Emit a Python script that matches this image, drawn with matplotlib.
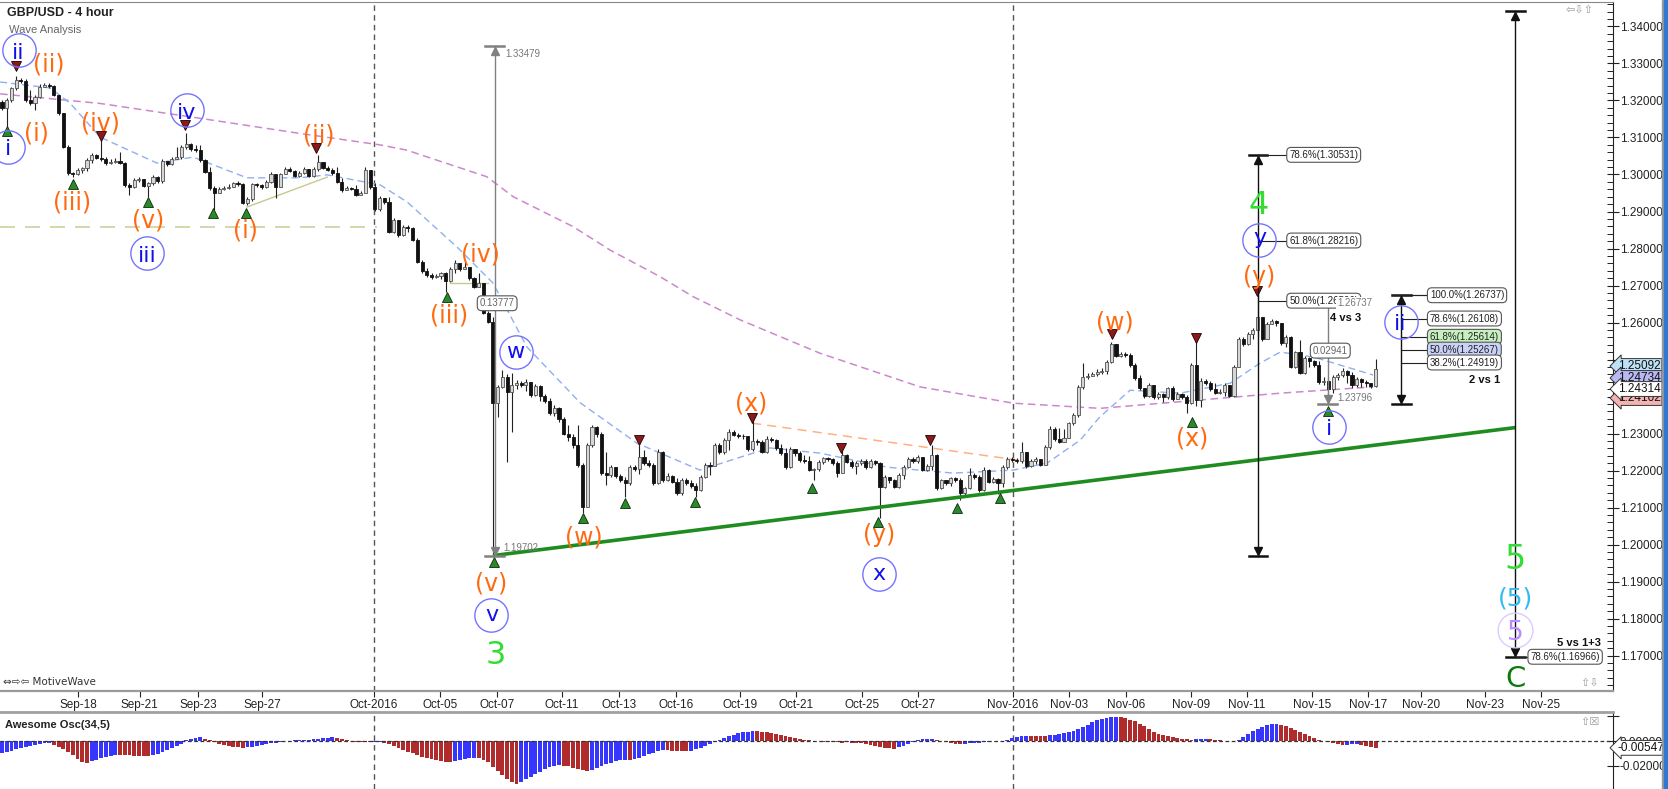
import matplotlib
matplotlib.use("Agg")
import matplotlib.pyplot as plt
from matplotlib.patches import Rectangle
import numpy as np

plt.rcParams['font.family'] = ['DejaVu Sans']
SMALL = ['Liberation Sans', 'DejaVu Sans']

W, H = 1668, 789

# ---- 4 hour candles (bar index 0 = first bar on the left) ----
first_open = 1.3197
closes = [
    1.3179, 1.3201, 1.3233, 1.3255, 1.3253, 1.3201, 1.3192, 1.3210, 1.3237, 1.3242,
    1.3239, 1.3215, 1.3165, 1.3075, 1.3003, 1.3001, 1.3012, 1.3017, 1.3039, 1.3053,
    1.3044, 1.3041, 1.3030, 1.3035, 1.3037, 1.3032, 1.2972, 1.2966, 1.2985, 1.2989,
    1.2969, 1.2976, 1.2992, 1.2983, 1.3037, 1.3028, 1.3043, 1.3046, 1.3073, 1.3082,
    1.3068, 1.3066, 1.3039, 1.3008, 1.2963, 1.2951, 1.2960, 1.2964, 1.2967, 1.2976,
    1.2974, 1.2924, 1.2933, 1.2974, 1.2971, 1.2967, 1.2981, 1.3001, 1.2966, 1.3001,
    1.3016, 1.3010, 1.2996, 1.3003, 1.3016, 1.2996, 1.3016, 1.3034, 1.3018, 1.3012,
    1.3003, 1.2981, 1.2958, 1.2964, 1.2960, 1.2945, 1.2951, 1.3012, 1.2966, 1.2906,
    1.2937, 1.2927, 1.2845, 1.2877, 1.2836, 1.2859, 1.2855, 1.2823, 1.2764, 1.2740,
    1.2728, 1.2724, 1.2726, 1.2733, 1.2713, 1.2745, 1.2762, 1.2744, 1.2749, 1.2719,
    1.2697, 1.2706, 1.2627, 1.2602, 1.2382, 1.2425, 1.2452, 1.2413, 1.2431, 1.2436,
    1.2431, 1.2440, 1.2404, 1.2428, 1.2401, 1.2389, 1.2356, 1.2368, 1.2338, 1.2300,
    1.2291, 1.2269, 1.2215, 1.2102, 1.2269, 1.2317, 1.2299, 1.2194, 1.2188, 1.2209,
    1.2186, 1.2174, 1.2165, 1.2209, 1.2203, 1.2236, 1.2219, 1.2214, 1.2165, 1.2251,
    1.2174, 1.2185, 1.2170, 1.2138, 1.2174, 1.2165, 1.2158, 1.2147, 1.2183, 1.2215,
    1.2211, 1.2269, 1.2251, 1.2283, 1.2305, 1.2296, 1.2293, 1.2292, 1.2257, 1.2281,
    1.2277, 1.2251, 1.2286, 1.2283, 1.2260, 1.2246, 1.2210, 1.2257, 1.2246, 1.2228,
    1.2227, 1.2201, 1.2203, 1.2224, 1.2233, 1.2230, 1.2219, 1.2194, 1.2242, 1.2224,
    1.2212, 1.2219, 1.2227, 1.2210, 1.2225, 1.2221, 1.2156, 1.2182, 1.2173, 1.2156,
    1.2187, 1.2210, 1.2232, 1.2227, 1.2237, 1.2201, 1.2212, 1.2242, 1.2152, 1.2173,
    1.2167, 1.2179, 1.2174, 1.2140, 1.2152, 1.2188, 1.2183, 1.2147, 1.2201, 1.2170,
    1.2176, 1.2165, 1.2209, 1.2232, 1.2228, 1.2225, 1.2250, 1.2212, 1.2227, 1.2230,
    1.2216, 1.2263, 1.2313, 1.2284, 1.2278, 1.2288, 1.2328, 1.2350, 1.2425, 1.2454,
    1.2455, 1.2461, 1.2467, 1.2470, 1.2494, 1.2542, 1.2510, 1.2515, 1.2512, 1.2485,
    1.2449, 1.2422, 1.2401, 1.2431, 1.2400, 1.2407, 1.2400, 1.2422, 1.2392, 1.2407,
    1.2398, 1.2382, 1.2485, 1.2391, 1.2443, 1.2437, 1.2419, 1.2410, 1.2413, 1.2431,
    1.2401, 1.2481, 1.2555, 1.2542, 1.2569, 1.2580, 1.2616, 1.2555, 1.2596, 1.2605,
    1.2598, 1.2544, 1.2560, 1.2481, 1.2519, 1.2464, 1.2503, 1.2497, 1.2485, 1.2438,
    1.2443, 1.2419, 1.2454, 1.2458, 1.2470, 1.2458, 1.2431, 1.2446, 1.2440, 1.2436,
    1.2428, 1.2473,
]
highs = [
    1.3201, 1.3206, 1.3237, 1.3266, 1.3260, 1.3257, 1.3228, 1.3215, 1.3245, 1.3246,
    1.3246, 1.3242, 1.3215, 1.3167, 1.3080, 1.3008, 1.3017, 1.3021, 1.3044, 1.3059,
    1.3055, 1.3098, 1.3046, 1.3041, 1.3044, 1.3062, 1.3034, 1.2976, 1.2990, 1.2994,
    1.2985, 1.2980, 1.2998, 1.2996, 1.3043, 1.3037, 1.3048, 1.3075, 1.3079, 1.3113,
    1.3086, 1.3081, 1.3079, 1.3041, 1.3019, 1.2969, 1.2965, 1.2969, 1.2973, 1.2980,
    1.2982, 1.2978, 1.2940, 1.2978, 1.2976, 1.2973, 1.2985, 1.3007, 1.2996, 1.3005,
    1.3021, 1.3019, 1.3012, 1.3009, 1.3021, 1.3016, 1.3019, 1.3053, 1.3034, 1.3023,
    1.3018, 1.3021, 1.2990, 1.2969, 1.2967, 1.2972, 1.2955, 1.3019, 1.3008, 1.2976,
    1.2943, 1.2936, 1.2940, 1.2882, 1.2873, 1.2864, 1.2864, 1.2857, 1.2828, 1.2769,
    1.2746, 1.2733, 1.2731, 1.2737, 1.2737, 1.2751, 1.2769, 1.2762, 1.2769, 1.2751,
    1.2724, 1.2735, 1.2704, 1.2632, 1.2616, 1.2431, 1.2472, 1.2461, 1.2464, 1.2445,
    1.2443, 1.2446, 1.2439, 1.2434, 1.2431, 1.2407, 1.2395, 1.2377, 1.2371, 1.2345,
    1.2323, 1.2298, 1.2323, 1.2219, 1.2275, 1.2322, 1.2319, 1.2305, 1.2251, 1.2215,
    1.2210, 1.2191, 1.2182, 1.2215, 1.2214, 1.2269, 1.2255, 1.2228, 1.2219, 1.2257,
    1.2254, 1.2192, 1.2188, 1.2179, 1.2179, 1.2179, 1.2174, 1.2165, 1.2188, 1.2221,
    1.2224, 1.2275, 1.2273, 1.2287, 1.2311, 1.2309, 1.2302, 1.2300, 1.2290, 1.2350,
    1.2284, 1.2282, 1.2292, 1.2290, 1.2286, 1.2272, 1.2260, 1.2263, 1.2257, 1.2252,
    1.2242, 1.2238, 1.2208, 1.2228, 1.2237, 1.2236, 1.2233, 1.2225, 1.2255, 1.2245,
    1.2228, 1.2225, 1.2232, 1.2230, 1.2230, 1.2228, 1.2224, 1.2187, 1.2182, 1.2177,
    1.2192, 1.2216, 1.2237, 1.2236, 1.2242, 1.2236, 1.2218, 1.2269, 1.2245, 1.2178,
    1.2175, 1.2183, 1.2182, 1.2179, 1.2156, 1.2206, 1.2192, 1.2188, 1.2210, 1.2203,
    1.2182, 1.2180, 1.2214, 1.2237, 1.2236, 1.2233, 1.2278, 1.2248, 1.2232, 1.2236,
    1.2232, 1.2268, 1.2319, 1.2317, 1.2314, 1.2311, 1.2332, 1.2356, 1.2430, 1.2490,
    1.2463, 1.2466, 1.2474, 1.2476, 1.2499, 1.2548, 1.2542, 1.2521, 1.2521, 1.2517,
    1.2490, 1.2458, 1.2419, 1.2436, 1.2418, 1.2412, 1.2409, 1.2427, 1.2428, 1.2412,
    1.2410, 1.2403, 1.2490, 1.2557, 1.2449, 1.2446, 1.2443, 1.2436, 1.2419, 1.2436,
    1.2428, 1.2485, 1.2560, 1.2560, 1.2574, 1.2585, 1.26737, 1.2616, 1.2601, 1.2610,
    1.2607, 1.2596, 1.2566, 1.2564, 1.2524, 1.2553, 1.2509, 1.2506, 1.2499, 1.2495,
    1.2454, 1.2452, 1.2459, 1.2464, 1.2476, 1.2472, 1.2467, 1.2454, 1.2449, 1.2445,
    1.2437, 1.2501,
]
lows = [
    1.3174, 1.3125, 1.3197, 1.3228, 1.3248, 1.3197, 1.3188, 1.3174, 1.3208, 1.3237,
    1.3235, 1.3212, 1.3161, 1.3071, 1.2999, 1.2992, 1.2999, 1.3005, 1.3010, 1.3032,
    1.3041, 1.3037, 1.3026, 1.3028, 1.3030, 1.3028, 1.2967, 1.2945, 1.2963, 1.2981,
    1.2965, 1.2940, 1.2972, 1.2978, 1.2978, 1.3023, 1.3026, 1.3041, 1.3043, 1.3068,
    1.3064, 1.3062, 1.3035, 1.3003, 1.2958, 1.2904, 1.2951, 1.2958, 1.2962, 1.2965,
    1.2969, 1.2920, 1.2917, 1.2929, 1.2965, 1.2962, 1.2963, 1.2976, 1.2936, 1.2983,
    1.3001, 1.3007, 1.2992, 1.2994, 1.3001, 1.2992, 1.2992, 1.3010, 1.3014, 1.3009,
    1.2999, 1.2978, 1.2954, 1.2957, 1.2957, 1.2942, 1.2947, 1.2949, 1.2960, 1.2902,
    1.2902, 1.2920, 1.2841, 1.2843, 1.2830, 1.2834, 1.2845, 1.2819, 1.2760, 1.2735,
    1.2724, 1.2718, 1.2720, 1.2718, 1.2683, 1.2710, 1.2733, 1.2740, 1.2744, 1.2715,
    1.2693, 1.2695, 1.2623, 1.2598, 1.19702, 1.2345, 1.2422, 1.2224, 1.2305, 1.2419,
    1.2425, 1.2416, 1.2400, 1.2401, 1.2389, 1.2383, 1.2351, 1.2346, 1.2332, 1.2295,
    1.2281, 1.2260, 1.2210, 1.2086, 1.2111, 1.2264, 1.2290, 1.2188, 1.2161, 1.2182,
    1.2179, 1.2169, 1.2129, 1.2161, 1.2198, 1.2191, 1.2215, 1.2209, 1.2160, 1.2164,
    1.2169, 1.2171, 1.2165, 1.2135, 1.2135, 1.2160, 1.2153, 1.2129, 1.2144, 1.2179,
    1.2188, 1.2215, 1.2245, 1.2245, 1.2255, 1.2292, 1.2288, 1.2284, 1.2254, 1.2254,
    1.2270, 1.2246, 1.2248, 1.2277, 1.2255, 1.2243, 1.2203, 1.2207, 1.2239, 1.2224,
    1.2221, 1.2198, 1.2173, 1.2198, 1.2218, 1.2225, 1.2215, 1.2182, 1.2192, 1.2221,
    1.2207, 1.2191, 1.2214, 1.2205, 1.2207, 1.2216, 1.2071, 1.2152, 1.2167, 1.2152,
    1.2152, 1.2178, 1.2207, 1.2221, 1.2221, 1.2198, 1.2198, 1.2201, 1.2147, 1.2149,
    1.2161, 1.2158, 1.2169, 1.2120, 1.2134, 1.2149, 1.2178, 1.2143, 1.2145, 1.2165,
    1.2167, 1.2136, 1.2155, 1.2203, 1.2223, 1.2219, 1.2221, 1.2207, 1.2210, 1.2218,
    1.2212, 1.2214, 1.2259, 1.2279, 1.2274, 1.2283, 1.2299, 1.2322, 1.2345, 1.2421,
    1.2448, 1.2455, 1.2456, 1.2461, 1.2461, 1.2490, 1.2506, 1.2506, 1.2508, 1.2481,
    1.2445, 1.2418, 1.2395, 1.2398, 1.2392, 1.2392, 1.2385, 1.2392, 1.2389, 1.2400,
    1.2392, 1.2355, 1.2380, 1.2373, 1.2371, 1.2432, 1.2414, 1.2407, 1.2407, 1.2401,
    1.2398, 1.2398, 1.2479, 1.2537, 1.2539, 1.2555, 1.2560, 1.2551, 1.2566, 1.2596,
    1.2591, 1.2540, 1.2535, 1.2476, 1.2476, 1.2461, 1.2461, 1.2479, 1.2481, 1.2434,
    1.2431, 1.23796, 1.2409, 1.2445, 1.2452, 1.2436, 1.2422, 1.2427, 1.2425, 1.2425,
    1.2422, 1.2427,
]

# ---- Awesome Oscillator (34,5), one value per bar ----
ao_vals = [
    -0.0093, -0.0088, -0.0080, -0.0066, -0.0055, -0.0046, -0.0038, -0.0030, -0.0024, -0.0018, -0.0013,
    -0.0030, -0.0045, -0.0065, -0.0088, -0.0115, -0.0140, -0.0165, -0.0172,
    -0.0162, -0.0150, -0.0138, -0.0127, -0.0118, -0.0110,
    -0.0111, -0.0113, -0.0115, -0.0117, -0.0118, -0.0120, -0.0121,
    -0.0112, -0.0100, -0.0085, -0.0070, -0.0055, -0.0040, -0.0020, 0.0005, 0.0020, 0.0027, 0.0030,
    0.0018, 0.0005, -0.0010, -0.0022, -0.0033, -0.0042, -0.0048, -0.0051, -0.0053,
    -0.0049, -0.0044, -0.0038, -0.0032, -0.0026, -0.0019, -0.0014, -0.0008, -0.0003, 0.0002,
    0.0005, 0.0007, 0.0009, 0.0012, 0.0016, 0.0020, 0.0024, 0.0027, 0.0029,
    0.0022, 0.0014, 0.0006, -0.0002, -0.0006, -0.0008, -0.0009, -0.0010,
    -0.0006, -0.0005,
    -0.0012, -0.0024, -0.0038, -0.0055, -0.0070, -0.0084, -0.0097, -0.0110, -0.0124, -0.0136,
    -0.0146, -0.0154, -0.0160, -0.0165, -0.0167,
    -0.0160, -0.0152, -0.0145, -0.0139, -0.0132,
    -0.0135, -0.0150, -0.0170, -0.0205, -0.0240, -0.0270, -0.0300, -0.0330, -0.0344,
    -0.0325, -0.0305, -0.0285, -0.0265, -0.0245, -0.0225, -0.0210, -0.0200, -0.0193,
    -0.0196, -0.0203, -0.0212, -0.0222, -0.0232, -0.0238,
    -0.0228, -0.0215, -0.0200, -0.0185, -0.0172, -0.0162, -0.0155, -0.0150,
    -0.0153,
    -0.0146, -0.0132, -0.0118, -0.0104, -0.0092, -0.0082, -0.0074,
    -0.0075, -0.0077, -0.0079, -0.0080, -0.0081,
    -0.0076, -0.0066, -0.0052, -0.0036, -0.0020, -0.0006, 0.0008, 0.0025, 0.0040, 0.0052,
    0.0062, 0.0070, 0.0076, 0.0080,
    0.0078, 0.0075, 0.0070, 0.0064, 0.0057, 0.0050, 0.0042, 0.0035, 0.0027, 0.0020,
    0.0012, 0.0006, 0.0001, -0.0003, -0.0005, -0.0007, -0.0009, -0.0010, -0.0012,
    -0.0011,
    -0.0012, -0.0014, -0.0018, -0.0024, -0.0032, -0.0040, -0.0048, -0.0054, -0.0058, -0.0060,
    -0.0050, -0.0038, -0.0022, -0.0006, 0.0006, 0.0013, 0.0017, 0.0018,
    0.0008, -0.0002, -0.0010, -0.0016, -0.0022, -0.0024,
    -0.0022, -0.0019, -0.0016, -0.0013, -0.0010, -0.0007, -0.0003, -0.0001,
    0.0004, 0.0012, 0.0024, 0.0034, 0.0040, 0.0042,
    0.0040, 0.0039, 0.0038, 0.0037,
    0.0045, 0.0052, 0.0058, 0.0064, 0.0070, 0.0080, 0.0095, 0.0112, 0.0130, 0.0150,
    0.0166, 0.0178, 0.0186, 0.0190, 0.0191,
    0.0189, 0.0183, 0.0172, 0.0158, 0.0140, 0.0118, 0.0095, 0.0075, 0.0058, 0.0045,
    0.0037, 0.0031, 0.0025, 0.0020, 0.0015, 0.0012,
    0.0014, 0.0016, 0.0017,
    0.0014, 0.0010, 0.0005, 0.0002, 0.0001,
    0.0002, 0.0012, 0.0030, 0.0055, 0.0078, 0.0098, 0.0115, 0.0127, 0.0134, 0.0137,
    0.0130, 0.0120, 0.0106, 0.0090, 0.0072, 0.0055, 0.0040, 0.0025, 0.0012, -0.0002,
    -0.0010, -0.0018, -0.0024, -0.0030,
    -0.0028, -0.0026, -0.0025,
    -0.0030, -0.0036, -0.0044, -0.00547,
]

# ---- moving averages ----
slow_ma_x = [-0.4, 20.8, 41.9, 63.1, 80.1, 85.7, 102.7, 108.3, 121.0, 128.8, 139.4, 146.4,
             156.4, 173.3, 194.5, 214.2, 232.6, 249.6, 270.8, 290.5]
slow_ma_p = [1.3218, 1.3192, 1.3152, 1.3111, 1.3080, 1.3066, 1.2994, 1.2940, 1.2859, 1.2796,
             1.2724, 1.2670, 1.2607, 1.2517, 1.2426, 1.2382, 1.2368, 1.2386, 1.2409, 1.2426]
fast_ma_x = [-0.4, 10.2, 14.4, 20.8, 32.8, 40.5, 51.9, 63.1, 68.9, 80.1, 85.8, 96.4, 104.0,
             111.2, 122.5, 134.5, 147.9, 156.4, 162.7, 173.3, 187.5, 201.5, 214.2, 221.4,
             228.4, 232.6, 239.0, 249.6, 260.2, 266.5, 270.8, 277.8, 290.5]
fast_ma_p = [1.3250, 1.3234, 1.3193, 1.3101, 1.3031, 1.3047, 1.2991, 1.2991, 1.2999, 1.2972,
             1.2926, 1.2804, 1.2707, 1.2534, 1.2383, 1.2274, 1.2201, 1.2236, 1.2261, 1.2247,
             1.2209, 1.2193, 1.2201, 1.2220, 1.2282, 1.2345, 1.2417, 1.2409, 1.2436, 1.2490,
             1.2520, 1.2507, 1.2458]

tick_pos = [16.1, 29.2, 41.5, 55.1, 78.8, 92.8, 104.9, 118.6, 130.7, 142.8, 156.4, 168.2,
            182.2, 194.1, 214.2, 226.1, 238.1, 251.9, 263.8, 277.5, 289.4, 300.6, 314.2, 326.1]
tick_lab = ['Sep-18', 'Sep-21', 'Sep-23', 'Sep-27', 'Oct-2016', 'Oct-05', 'Oct-07', 'Oct-11',
            'Oct-13', 'Oct-16', 'Oct-19', 'Oct-21', 'Oct-25', 'Oct-27', 'Nov-2016', 'Nov-03',
            'Nov-06', 'Nov-09', 'Nov-11', 'Nov-15', 'Nov-17', 'Nov-20', 'Nov-23', 'Nov-25']
month_starts = [78.8, 214.2]

# right scale tags: value, colour
price_tags = [1.25092, 1.24734, 1.24102, 1.24314]
tag_colors = ['#bfe1f6', '#b9b9f4', '#f4b3b3', 'white']

# wave labels: text, bar, price
orange_labels = [("(ii)", 10.0, 1.3299), ("(i)", 7.2, 1.3111), ("(iv)", 20.9, 1.3138),
                 ("(iii)", 14.9, 1.2926), ("(v)", 30.9, 1.2877), ("(ii)", 67.2, 1.3107),
                 ("(i)", 51.6, 1.2850), ("(iv)", 101.3, 1.2784), ("(iii)", 94.8, 1.2620),
                 ("(v)", 103.7, 1.1896), ("(w)", 123.2, 1.2021), ("(x)", 158.8, 1.2382),
                 ("(y)", 185.9, 1.2026), ("(w)", 235.8, 1.2602), ("(x)", 252.2, 1.2287),
                 ("(y)", 266.3, 1.2724)]
blue_labels = [("ii", 3.5, 1.3336), ("i", 1.3, 1.3075), ("iv", 39.1, 1.3174),
               ("iii", 30.7, 1.2787), ("w", 108.8, 1.2521), ("x", 185.7, 1.1919),
               ("v", 103.7, 1.1810), ("y", 266.4, 1.2823), ("i", 281.2, 1.2318),
               ("ii", 296.3, 1.2602)]
low_marks = [(1, 1.3118), (15, 1.2974), (30.9, 1.2926), (44.8, 1.2895), (51.6, 1.2897),
             (94.2, 1.2670), (104.3, 1.1953), (123.0, 1.2071), (132, 1.2113), (146.8, 1.2116),
             (171.7, 1.2152), (185.5, 1.2062), (202.4, 1.2098), (211.4, 1.2125),
             (252.1, 1.2332), (281, 1.2361)]
high_marks = [(3, 1.3293), (20.9, 1.3104), (38.8, 1.3134), (66.5, 1.3071), (135, 1.2282),
              (158.8, 1.2343), (177.7, 1.2260), (196.5, 1.2282), (235.1, 1.2568),
              (253, 1.2559), (265.8, 1.2686)]

trend_x = [104.0, 320.6]
trend_p = [1.1970, 1.2316]

PX_P = 1 / 3700.0   # price per pixel

fig = plt.figure(figsize=(W / 100, H / 100), dpi=100)
ax = fig.add_axes([0, 1 - 691 / H, 1613 / W, 689 / H])
osc = fig.add_axes([0, 0, 1613 / W, 77 / H])

xlo, xhi = -0.424, 341.3
ax.set_xlim(xlo, xhi)
ax.set_ylim(1.16041, 1.34662)
osc.set_xlim(xlo, xhi)
osc.set_ylim(-0.0384, 0.0232)

# candles
n = min(len(closes), len(highs), len(lows))
xb = np.arange(n)
c = np.array(closes[:n])
o = np.array([first_open] + closes[:n - 1])
h = np.maximum(np.array(highs[:n]), np.maximum(o, c))
l = np.minimum(np.array(lows[:n]), np.minimum(o, c))
up = c >= o
ax.vlines(xb, l, h, color='#222222', lw=0.8, zorder=3)
bb = np.minimum(o, c)
bh = np.maximum(np.abs(c - o), 0.00007)
ax.bar(xb[up], bh[up], bottom=bb[up], width=0.66, color='#d6d6d6', edgecolor='#505050', lw=0.6, zorder=4)
ax.bar(xb[~up], bh[~up], bottom=bb[~up], width=0.66, color='#111111', edgecolor='#111111', lw=0.6, zorder=4)

# moving averages and helper lines
ax.plot(slow_ma_x, slow_ma_p, color='#cc88cc', lw=1.1, dashes=(5, 3), zorder=2)
ax.plot(fast_ma_x, fast_ma_p, color='#8fb0f0', lw=1.0, dashes=(5, 3), zorder=2)
ax.plot([xlo, 79.5], [1.2858, 1.2858], color='#cfcf9f', lw=1.2, dashes=(9, 6), zorder=2)
ax.plot([51.9, 68.9], [1.2912, 1.2993], color='#c8c890', lw=1.0, zorder=2)
ax.plot([94.9, 103.0], [1.2707, 1.2707], color='#c8c890', lw=1.0, zorder=2)
ax.plot([158.9, 222.7], [1.2328, 1.2215], color='#ffb080', lw=1.1, dashes=(6, 4), zorder=2)
ax.plot(trend_x, trend_p, color='#1f8c1f', lw=2.6, zorder=5, solid_capstyle='butt')

for m in month_starts:
    ax.axvline(m, color='#555555', lw=1, dashes=(4, 3), zorder=1)
    osc.axvline(m, color='#555555', lw=1, dashes=(4, 3), zorder=1)

# pivot markers
for bx, p in low_marks:
    ax.plot(bx, p, marker='^', ms=7.5, mfc='#2a8a2a', mec='#0a2a0a', mew=0.6, zorder=6)
for bx, p in high_marks:
    ax.plot(bx, p, marker='v', ms=7.5, mfc='#8a1a1a', mec='#200000', mew=0.6, zorder=6)


def wave(txt, bx, p, color, fs, lift):
    ax.annotate(txt, (bx, p), xytext=(0, -lift * fs), textcoords='offset points',
                ha='center', va='baseline', color=color, fontsize=fs, zorder=8)


for t, bx, p in orange_labels:
    wave(t, bx, p, '#ff6a10', 17, 0.31)
for t, bx, p in blue_labels:
    ax.plot(bx, p, marker='o', ms=24, mfc='none', mec='#7474ff', mew=1.0, zorder=7)
    lift = 0.38 if t.startswith('i') else (0.17 if t == 'y' else 0.27)
    wave(t, bx, p, '#1010ee', 16, lift)

wave("3", 104.6, 1.1709, '#33dd33', 23, 0.365)
wave("4", 266.2, 1.2926, '#33dd33', 23, 0.365)
wave("5", 320.6, 1.1966, '#33dd33', 24, 0.365)
wave("(5)", 320.6, 1.1855, '#33bbf0', 18, 0.31)
ax.plot(320.6, 1.1769, marker='o', ms=25, mfc='none', mec='#dccbff', mew=1.0, zorder=7)
wave("5", 320.6, 1.1769, '#b98cff', 19, 0.365)
wave("C", 320.6, 1.1643, '#0a7a0a', 21, 0.365)


# measuring lines
def measure(bx, top, bot, color, half=2.0, heads=True):
    ax.plot([bx, bx], [bot, top], color=color, lw=1.0, zorder=6)
    ax.plot([bx - half, bx + half], [top, top], color=color, lw=1.8, zorder=6)
    ax.plot([bx - half, bx + half], [bot, bot], color=color, lw=1.8, zorder=6)
    if heads:
        ax.plot(bx, top - 5 * PX_P, marker='^', ms=6, color=color, zorder=6)
        ax.plot(bx, bot + 5 * PX_P, marker='v', ms=6, color=color, zorder=6)


def fbox(txt, bx, p, fc='white', tc='#222222', ha='left'):
    ax.text(bx, p, txt, ha=ha, va='center', fontsize=7, family=SMALL, color=tc, zorder=9,
            bbox=dict(boxstyle='round,pad=0.25,rounding_size=0.45', fc=fc, ec='#555555', lw=0.8))


def small(txt, bx, p, color='#777777', bold=False, ha='left', fs=7, bg=None):
    kw = {}
    if bg:
        kw['bbox'] = dict(boxstyle='square,pad=0.1', fc=bg, ec='none')
    ax.text(bx, p, txt, ha=ha, va='center', fontsize=fs, family=SMALL, color=color,
            fontweight='bold' if bold else 'normal', zorder=10, **kw)


# wave 3 length
measure(104.4, 1.33479, 1.19702, '#808080')
small("1.33479", 106.6, 1.3326)
fbox("0.13777", 104.9, 1.2652, tc='#666666', ha='center')
small("1.19702", 106.1, 1.1991)

# wave 4 vs 3 retracements
measure(266.1, 1.30531, 1.19702, '#111111')
for lvl, txt in [(1.30531, "78.6%(1.30531)"), (1.28216, "61.8%(1.28216)"), (1.26590, "50.0%(1.26590)")]:
    ax.plot([266.1, 272.3], [lvl, lvl], color='#222222', lw=0.8, zorder=6)
    fbox(txt, 272.7, lvl)
measure(280.9, 1.26737, 1.23796, '#808080')
small("1.26737", 282.8, 1.2652, bg='white')
small("4 vs 3", 281.4, 1.2612, color='#111111', bold=True, fs=8)
fbox("0.02941", 281.4, 1.2524, tc='#666666', ha='center')
small("1.23796", 282.8, 1.2396)

# wave 2 vs 1 retracements
measure(296.4, 1.26737, 1.23796, '#111111')
ax.plot([294.4, 301.6], [1.26737, 1.26737], color='#222222', lw=0.8, zorder=6)
for lvl, txt, fc in [(1.26737, "100.0%(1.26737)", 'white'), (1.26108, "78.6%(1.26108)", 'white'),
                     (1.25614, "61.8%(1.25614)", '#c6f0bd'), (1.25267, "50.0%(1.25267)", '#c9d2f7'),
                     (1.24919, "38.2%(1.24919)", 'white')]:
    ax.plot([296.4, 302.2], [lvl, lvl], color='#222222', lw=0.8, zorder=6)
    fbox(txt, 302.5, lvl, fc=fc)
small("2 vs 1", 317.4, 1.2445, color='#111111', bold=True, ha='right', fs=8)

# wave 5 target
measure(320.6, 1.3443, 1.16966, '#111111')
ax.plot([320.6, 323.4], [1.16966, 1.16966], color='#222222', lw=0.8, zorder=6)
fbox("78.6%(1.16966)", 323.8, 1.16966)
small("5 vs 1+3", 338.8, 1.1735, color='#111111', bold=True, ha='right', fs=8)

# axes styling: main
ax.set_facecolor('white')
ax.spines['left'].set_visible(False)
ax.spines['top'].set_color('#888888')
ax.spines['bottom'].set_color('#9a9a9a')
ax.spines['bottom'].set_linewidth(1.6)
ax.spines['right'].set_color('#222222')
ax.yaxis.tick_right()
major = np.round(np.arange(1.17, 1.3401, 0.01), 2)
ax.set_yticks(major)
# 1.24 and 1.25 sit under the price tags
ax.set_yticklabels(["" if v in (1.24, 1.25) else "%.5f" % v for v in major])
ax.set_yticks(np.arange(1.162, 1.346, 0.002), minor=True)
ax.tick_params(axis='y', which='major', direction='inout', length=8, width=0.8, pad=1,
               labelsize=8.5, colors='#222222')
ax.tick_params(axis='y', which='minor', direction='in', length=4, width=0.7, colors='#222222')
for lab in ax.get_yticklabels():
    lab.set_family(SMALL)
ax.set_xticks(tick_pos)
ax.set_xticklabels(tick_lab)
ax.tick_params(axis='x', direction='out', length=4, width=0.8, pad=2, labelsize=8.5, colors='#222222')
for lab in ax.get_xticklabels():
    lab.set_family(SMALL)

# price tags, stacked below the 1.26 line as on the platform scale
tag_rows_px = {1.25092: 366, 1.24734: 378, 1.24102: 398, 1.24314: 389}
for p, fc in zip(price_tags, tag_colors):
    yrow = 1.34 - (tag_rows_px[p] - 26.5) * PX_P
    ax.annotate("%.5f" % p, (1.0, yrow), xycoords=ax.get_yaxis_transform(), xytext=(3.5, 0),
                textcoords='offset points', ha='left', va='center', fontsize=8.5, family=SMALL,
                color='#111111', zorder=12, annotation_clip=False,
                bbox=dict(boxstyle='larrow,pad=0.12', fc=fc, ec='#333333', lw=0.7))

# oscillator
ao = np.array(ao_vals[:n])
prev = np.concatenate([[ao[0] - 1], ao[:-1]])
cols = np.where(ao > prev, '#3636ff', '#b02c2c')
osc.bar(np.arange(len(ao)), ao, width=0.82, color=cols, lw=0, zorder=3)
osc.plot([xlo, xhi], [0, 0], color='#333333', lw=0.9, dashes=(3, 2), zorder=4)
osc.spines['left'].set_visible(False)
osc.spines['top'].set_color('#a0a0a0')
osc.spines['top'].set_linewidth(2)
osc.spines['bottom'].set_color('#a0a0a0')
osc.spines['right'].set_color('#222222')
osc.set_xticks([])
osc.yaxis.tick_right()
osc.set_yticks([0.02, 0.0, -0.02])
osc.set_yticklabels(['', '0.00000', '-0.02000'])
osc.tick_params(axis='y', direction='inout', length=8, width=0.8, pad=1, labelsize=8.5, colors='#222222')
for lab in osc.get_yticklabels():
    lab.set_family(SMALL)
osc.annotate("-0.00547", (1.0, -0.00547), xycoords=osc.get_yaxis_transform(), xytext=(3.5, 0),
             textcoords='offset points', ha='left', va='center', fontsize=8.5, family=SMALL,
             color='#111111', zorder=12, annotation_clip=False,
             bbox=dict(boxstyle='larrow,pad=0.12', fc='white', ec='#333333', lw=0.7))

# panel texts and frame bits
fig.text(7 / W, 1 - 13 / H, "GBP/USD - 4 hour", fontsize=9, fontweight='bold', family=SMALL,
         color='#222222', va='center')
fig.text(9 / W, 1 - 30 / H, "Wave Analysis", fontsize=8, family=SMALL, color='#666666', va='center')
fig.text(3 / W, 1 - 682 / H, "⇔⇨⇦ MotiveWave", fontsize=7.5, family=['DejaVu Sans'],
         color='#333333', va='center')
fig.text(5 / W, 1 - 725 / H, "Awesome Osc(34,5)", fontsize=8, fontweight='bold', family=SMALL,
         color='#222222', va='center')
fig.text(1566 / W, 1 - 10 / H, "⇦⇩⇧", fontsize=8, color='#999999', va='center')
fig.text(1580 / W, 1 - 683 / H, "⇧⇩", fontsize=8, color='#999999', va='center')
fig.text(1580 / W, 1 - 722 / H, "⇧☒", fontsize=8, color='#999999', va='center')
fig.patches.append(Rectangle((1662 / W, 0), 1 / W, 1, transform=fig.transFigure,
                             color='#9a9a9a', zorder=20))
fig.patches.append(Rectangle((1664 / W, 0), 4 / W, 1, transform=fig.transFigure,
                             color='#2f78d0', zorder=20))

fig.savefig("out.png", dpi=100)
